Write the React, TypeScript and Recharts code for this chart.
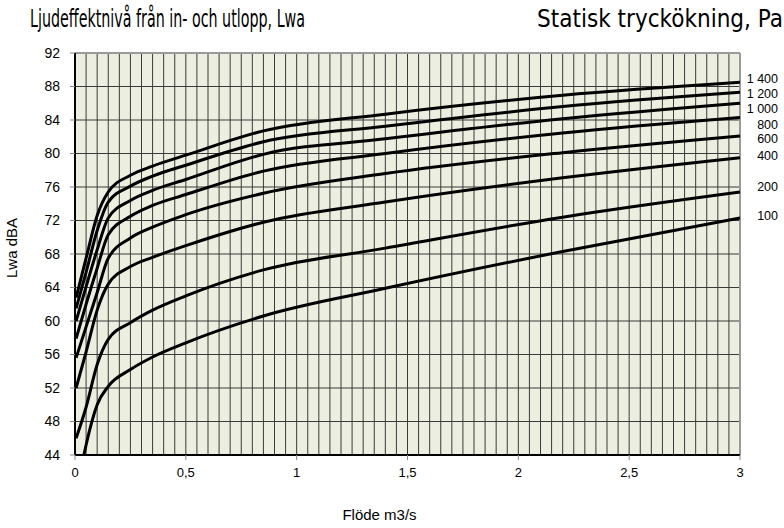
import React from 'react';
import { LineChart, Line, XAxis, YAxis, CartesianGrid, ReferenceLine, ReferenceDot } from 'recharts';

// flow (m3/s) sample points, shared by the curves
const flows = [0.005, 0.05, 0.1, 0.15, 0.25, 0.35, 0.5, 0.85, 1.4, 2.2, 3];
const flows100 = [0.04, 0.05, 0.1, 0.15, 0.25, 0.35, 0.5, 0.85, 1.4, 2.2, 3];

// Lwa dBA per static pressure rise (Pa)
const lwa1400 = [62.8, 67.5, 72.6, 75.4, 77.4, 78.5, 79.8, 82.7, 84.7, 86.95, 88.5];
const lwa1200 = [61.5, 65.8, 70.8, 74.2, 76.1, 77.3, 78.6, 81.4, 83.25, 85.6, 87.3];
const lwa1000 = [60.0, 64.1, 68.5, 72.3, 74.4, 75.6, 76.9, 79.9, 81.75, 84.15, 86.0];
const lwa800 = [57.9, 62.0, 66.3, 70.3, 72.5, 73.8, 75.1, 77.9, 80.0, 82.45, 84.3];
const lwa600 = [55.6, 59.3, 63.4, 67.5, 69.9, 71.2, 72.7, 75.25, 77.6, 80.1, 82.1];
const lwa400 = [52.0, 56.3, 61.3, 64.4, 66.5, 67.6, 69.0, 71.8, 74.2, 77.1, 79.5];
const lwa200 = [46.0, 49.7, 54.8, 57.8, 59.8, 61.3, 63.0, 66.1, 68.7, 72.4, 75.4];
const lwa100 = [44.0, 45.2, 50.0, 52.2, 54.2, 55.7, 57.4, 60.6, 63.9, 68.3, 72.3];

const pressureLabels = ['1 400', '1 200', '1 000', '800', '600', '400', '200', '100'];
const labelLwa = [88.95, 87.2, 85.3, 83.5, 81.8, 79.8, 76.0, 72.6];

const flowTicks = [0, 0.5, 1, 1.5, 2, 2.5, 3];
const lwaTicks = [44, 48, 52, 56, 60, 64, 68, 72, 76, 80, 84, 88, 92];
const gridFlows = Array.from({ length: 59 }, (_, i) => +((i + 1) * 0.05).toFixed(2));

const toPoints = (xs: number[], ys: number[]) => xs.map((flow, i) => ({ flow, lwa: ys[i] }));

const curves = [
  toPoints(flows, lwa1400),
  toPoints(flows, lwa1200),
  toPoints(flows, lwa1000),
  toPoints(flows, lwa800),
  toPoints(flows, lwa600),
  toPoints(flows, lwa400),
  toPoints(flows, lwa200),
  toPoints(flows100, lwa100),
];

const font = '"Liberation Sans", Arial, sans-serif';
const titleFont = '"Liberation Sans Narrow", "DejaVu Sans Condensed", Arial, sans-serif';

const PressureLabel = ({ viewBox, text }: any) => (
  <text x={viewBox.x + viewBox.width / 2 + 38} y={viewBox.y + viewBox.height / 2} dy="0.35em"
    textAnchor="end" fontSize={12.5} fontFamily={font} fill="#000">{text}</text>
);

export default function App() {
  return (
    <div style={{ position: 'relative', width: 784, height: 528, background: '#fff' }}>
      <style>{'body{margin:0}'}</style>
      <LineChart width={784} height={528} margin={{ top: 53, right: 44, bottom: 43, left: 0 }}>
        <CartesianGrid vertical={false} stroke="#3a3a3a" fill="#ECEFDF" fillOpacity={1} />
        {gridFlows.map((x) => (
          <ReferenceLine key={x} x={x} stroke="#3a3a3a" strokeWidth={1} />
        ))}
        <ReferenceLine y={92} stroke="#9a9a9a" strokeWidth={2} />
        <ReferenceLine x={3} stroke="#9a9a9a" strokeWidth={2} />
        <XAxis dataKey="flow" type="number" domain={[0, 3]} ticks={flowTicks} allowDuplicatedCategory={false}
          tickFormatter={(v: number) => String(v).replace('.', ',')}
          axisLine={{ stroke: '#000', strokeWidth: 2 }} tickLine={{ stroke: '#888' }} tickSize={5} tickMargin={8}
          tick={{ fontSize: 13, fontFamily: font, fill: '#000' }}
          label={{ value: 'Flöde m3/s', position: 'bottom', offset: 24, dx: -28, fontSize: 15, fontFamily: font, fill: '#000' }} />
        <YAxis type="number" domain={[44, 92]} ticks={lwaTicks} allowDataOverflow width={75}
          axisLine={{ stroke: '#000', strokeWidth: 2 }} tickLine={{ stroke: '#888' }} tickSize={5} tickMargin={10}
          tick={{ fontSize: 14, fontFamily: font, fill: '#000' }}
          label={{ value: 'Lwa dBA', angle: -90, position: 'insideLeft', offset: 12, dy: 24, fontSize: 15, fontFamily: font, fill: '#000' }} />
        {curves.map((pts, i) => (
          <Line key={pressureLabels[i]} data={pts} dataKey="lwa" type="monotone" stroke="#000" strokeWidth={3}
            dot={false} activeDot={false} isAnimationActive={false} />
        ))}
        {pressureLabels.map((t, i) => (
          <ReferenceDot key={t} x={3} y={labelLwa[i]} r={1} fill="none" stroke="none" ifOverflow="visible"
            label={(p: any) => <PressureLabel {...p} text={t} />} />
        ))}
      </LineChart>
      <svg width={784} height={40} style={{ position: 'absolute', left: 0, top: 0, pointerEvents: 'none' }}>
        <text x={30} y={27} fontSize={24} fontFamily={titleFont} fill="#000" textLength={275} lengthAdjust="spacingAndGlyphs">
          Ljudeffektnivå från in- och utlopp, Lwa
        </text>
        <text x={537} y={27} fontSize={24} fontFamily={titleFont} fill="#000" textLength={246} lengthAdjust="spacingAndGlyphs">
          Statisk tryckökning, Pa
        </text>
      </svg>
    </div>
  );
}
